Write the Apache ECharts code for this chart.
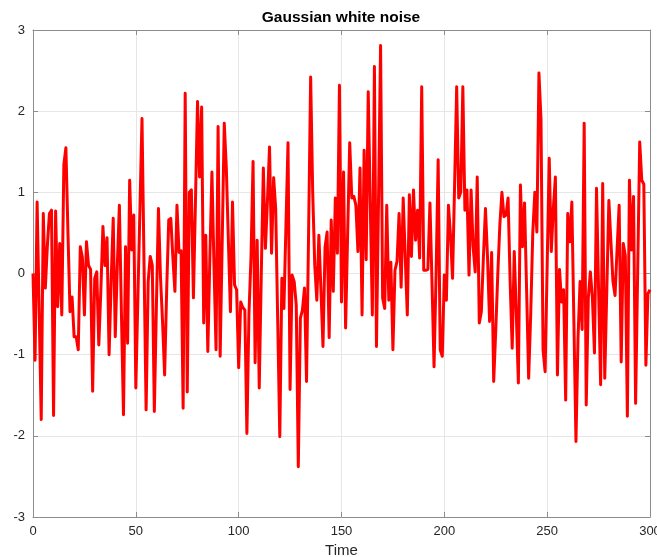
<!DOCTYPE html>
<html>
<head>
<meta charset="utf-8">
<script src="https://cdn.jsdelivr.net/npm/echarts@6/dist/echarts.min.js"></script>
<style>html,body{margin:0;padding:0;background:#fff;overflow:hidden;}#c{position:fixed;left:0;top:0;width:657px;height:557px;}</style>
</head>
<body>
<div id="c"></div>
<script>
const titleText = "Gaussian white noise";
const xLabel = "Time";
const xTicks = [0, 50, 100, 150, 200, 250, 300];
const yTicks = [-3, -2, -1, 0, 1, 2, 3];
const noise = [
 0.0, -1.07, 0.88, -0.45, -1.80, 0.74, -0.18, 0.35, 0.74, 0.78,
 -1.75, 0.77, -0.41, 0.37, -0.51, 1.34, 1.55, 0.5, -0.47, -0.29,
 -0.78, -0.78, -0.94, 0.33, 0.2, -0.51, 0.39, 0.1, 0.05, -1.45,
 -0.06, 0.02, -0.88, -0.2, 0.58, 0.1, 0.44, -1.0, -0.1, 0.68,
 -0.78, 0.1, 0.84, -0.5, -1.74, 0.33, -0.86, 1.15, 0.29, 0.72,
 -1.41, -0.3, 0.8, 1.91, 0.1, -1.68, -0.1, 0.21, 0.1, -1.70,
 -0.4, 0.8, -0.05, -0.6, -1.25, -0.2, 0.66, 0.68, 0.2, -0.22,
 0.84, 0.26, 0.28, -1.66, 2.22, -1.46, 1.0, 1.03, -0.3, 0.9,
 2.12, 1.19, 2.05, -0.61, 0.47, -0.96, 0.2, 1.25, 0.1, -0.94,
 1.81, -1.02, 0.4, 1.85, 1.3, 0.4, -0.47, 0.88, -0.14, -0.2,
 -1.16, -0.35, -0.42, -0.45, -1.97, -0.5, 0.2, 1.38, -1.1, 0.41,
 -1.41, 0.0, 1.3, 0.31, 0.9, 1.56, 0.25, 1.18, 0.8, -0.6,
 -2.01, -0.06, -0.43, 0.6, 1.61, -1.43, -0.02, -0.1, -0.39, -2.38,
 -0.55, -0.45, -0.18, -1.33, 0.5, 2.42, 1.0, 0.1, -0.33, 0.47,
 -0.2, -0.9, 0.32, 0.51, -0.79, 0.66, -0.22, 0.93, 0.25, 2.32,
 -0.35, 1.25, -0.67, 0.5, 1.61, 0.93, 0.95, 0.84, 0.27, 1.3,
 -0.51, 1.52, 0.17, 2.24, 0.84, -0.51, 2.55, -0.9, 0.9, 2.81,
 -0.3, -0.43, 0.84, -0.33, 0.14, -0.94, 0.04, 0.15, 0.74, -0.17,
 0.93, 0.2, -0.51, 0.97, 0.21, 1.03, 0.41, 0.78, 0.19, 2.3,
 0.04, 0.04, 0.05, 0.87, -0.1, -1.15, 0.0, 1.4, -0.94, -1.02,
 -0.02, -0.33, 0.84, 0.47, -0.06, 1.1, 2.3, 0.93, 1.0, 2.3,
 0.78, 1.03, -0.02, 1.03, 0.33, 0.02, 1.19, -0.61, -0.47, 0.2,
 0.8, 0.2, -0.59, 0.26, -1.33, -0.7, 0.0, 0.6, 1.0, 0.7,
 0.72, 0.93, -0.1, -0.92, 0.27, -0.5, -1.35, 1.09, 0.33, 0.87,
 -0.2, -1.29, -0.5, 0.5, 1.0, 0.51, 2.47, 1.9, -0.94, -1.21,
 0.1, 1.42, 0.27, 0.8, 1.19, -1.25, 0.05, -0.35, -0.2, -1.56,
 0.74, 0.39, 0.88, -0.6, -2.07, -0.8, -0.1, -0.69, 1.85, -1.62,
 -0.3, 0.02, -0.3, -0.98, 1.05, -0.2, -1.37, 1.11, -1.29, -0.2,
 0.9, 0.39, -0.1, -0.27, 0.3, 0.84, -1.09, 0.37, 0.22, -1.76,
 1.15, 0.29, 0.95, -1.6, 0.0, 1.62, 1.15, 1.1, -1.13, -0.25,
 -0.2
];
const timeIdx = noise.map((v, i) => i);

const FONT = '"Liberation Sans", Arial, Helvetica, sans-serif';
const axisCol = '#262626';
const chart = echarts.init(document.getElementById('c'), null, {renderer: 'canvas', width: 657, height: 557});
const xMin = xTicks[0], xMax = xTicks[xTicks.length - 1];
const yMin = yTicks[0], yMax = yTicks[yTicks.length - 1];
const common = {
  axisLine: {show: true, onZero: false, lineStyle: {color: '#8c8c8c', width: 1}},
  axisTick: {show: true, inside: true, length: 5, lineStyle: {color: '#8c8c8c'}},
};
chart.setOption({
  animation: false,
  backgroundColor: '#ffffff',
  graphic: [{
    type: 'text', x: 341, y: 18,
    style: {text: titleText, textAlign: 'center', textVerticalAlign: 'middle',
            font: 'bold 15.5px "Liberation Sans", Arial, sans-serif', fill: '#000'}
  }],
  grid: {left: 33, right: 7, top: 30, bottom: 40, containLabel: false, outerBoundsMode: 'none'},
  xAxis: [
    Object.assign({
      type: 'value', min: xMin, max: xMax, interval: 50, position: 'bottom',
      name: xLabel, nameLocation: 'middle', nameGap: 26,
      nameTextStyle: {fontFamily: FONT, fontSize: 15, color: axisCol},
      axisLabel: {fontFamily: FONT, fontSize: 13, color: axisCol, margin: 8},
      splitLine: {show: true, lineStyle: {color: '#e6e6e6', width: 1}}
    }, common),
    Object.assign({
      type: 'value', min: xMin, max: xMax, interval: 50, position: 'top',
      axisLabel: {show: false}, splitLine: {show: false}
    }, common)
  ],
  yAxis: [
    Object.assign({
      type: 'value', min: yMin, max: yMax, interval: 1, position: 'left',
      axisLabel: {fontFamily: FONT, fontSize: 13, color: axisCol, margin: 8},
      splitLine: {show: true, lineStyle: {color: '#e6e6e6', width: 1}}
    }, common),
    Object.assign({
      type: 'value', min: yMin, max: yMax, interval: 1, position: 'right',
      axisLabel: {show: false}, splitLine: {show: false}
    }, common)
  ],
  series: [{
    type: 'line',
    data: timeIdx.map((t, i) => [t, noise[i]]),
    showSymbol: false, symbol: 'none',
    lineStyle: {color: '#ff0000', width: 3, join: 'round'},
    itemStyle: {color: '#ff0000'},
    clip: true
  }]
});
</script>
</body>
</html>
